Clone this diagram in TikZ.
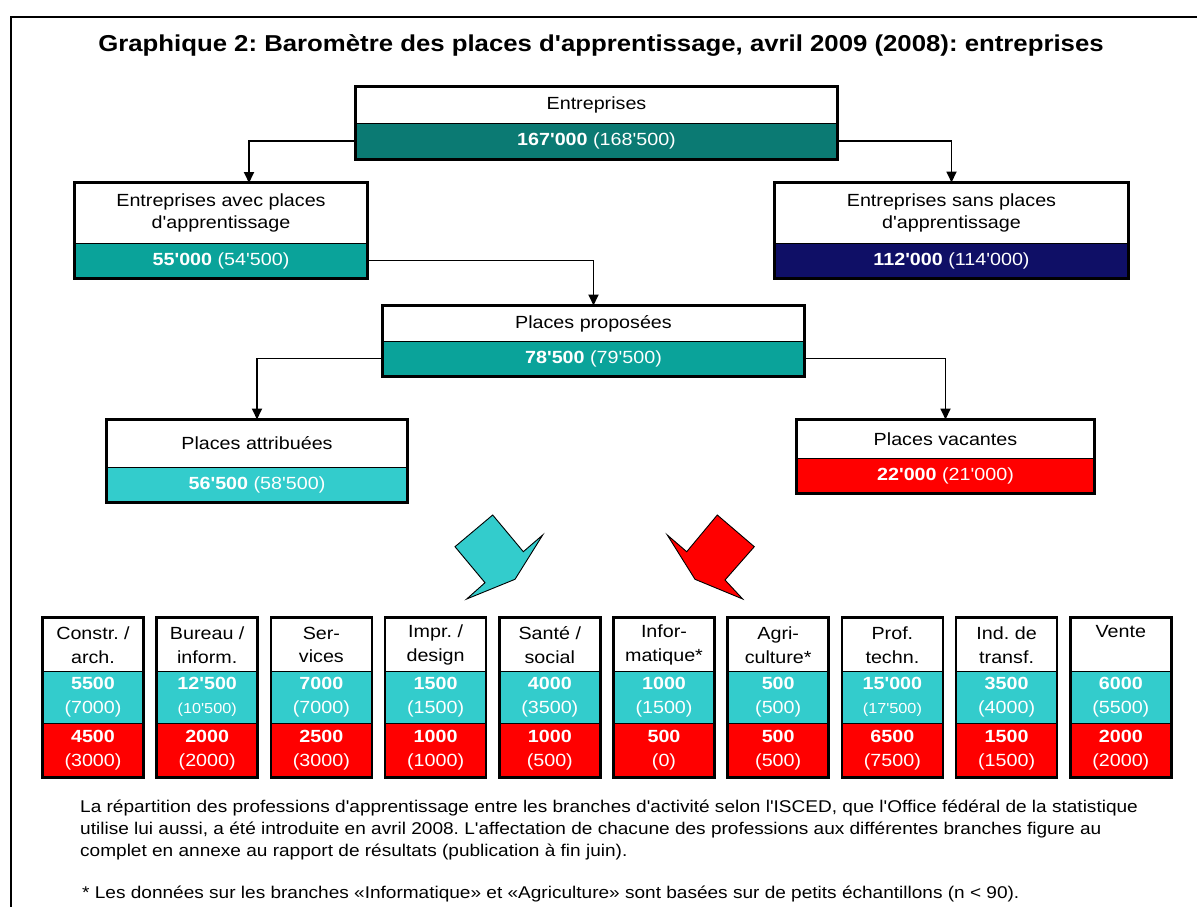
\documentclass[tikz,border=0pt]{standalone}
\usepackage{fontspec}
\setmainfont{Liberation Sans}[Ligatures=TeXOff, FakeStretch=1.12]
\usetikzlibrary{arrows.meta}
\frenchspacing
\definecolor{tealdark}{HTML}{0B7A73}
\definecolor{tealmid}{HTML}{0AA39A}
\definecolor{navy}{HTML}{0F0F66}
\definecolor{cyanbox}{HTML}{33CCCC}
\definecolor{redbox}{HTML}{FF0000}
\tikzset{
  hdr/.style={rectangle, draw=black, line width=1pt, fill=white, inner sep=0pt, align=center,
    font=\fontsize{17.6}{22}\selectfont, text=black},
  val/.style={rectangle, draw=black, line width=1pt, inner sep=0pt, align=center,
    font=\fontsize{17.6}{22}\selectfont, text=white},
  outer/.style={draw=black, line width=2.6pt},
  conn/.style={draw=black, line width=1.8pt, -{Triangle[length=11pt,width=10pt]}},
  fat/.style={draw=black, line width=0.9pt, line join=miter},
  bpart/.style={rectangle, draw=black, line width=1pt, inner sep=0pt, align=center,
    minimum width=100, font=\fontsize{17.6}{23.5}\selectfont},
}
\newcommand\twobox[9]{%
  \node[hdr, minimum width={#4-#2}, minimum height={#5-#3}] (#1h) at ({(#2+#4)/2},{(#3+#5)/2}) {#7};
  \node[val, fill=#9, minimum width={#4-#2}, minimum height={#6-#5}] (#1v) at ({(#2+#4)/2},{(#5+#6)/2}) {#8};
  \draw[outer] (#1h.north west) rectangle (#1v.south east);
}
\newcommand\sm[1]{{\fontsize{14.5}{16}\selectfont #1}}
\begin{document}
\begin{tikzpicture}[x=1pt,y=-1pt]
\useasboundingbox (0,0) rectangle (1197,907);
\draw[line width=2pt] (11,910) -- (11,17) -- (1200,17);
\node[font=\fontsize{23}{26}\selectfont\bfseries] (title) at (601,46) {Graphique 2: Baromètre des places d'apprentissage, avril 2009 (2008): entreprises};

\twobox{ent}{356}{87}{837}{123}{159}{Entreprises}{\textbf{167'000} (168'500)}{tealdark}
\twobox{avec}{75}{183}{367}{243}{278}{Entreprises avec places\\d'apprentissage}{\textbf{55'000} (54'500)}{tealmid}
\twobox{sans}{775}{183}{1128}{243}{278}{Entreprises sans places\\d'apprentissage}{\textbf{112'000} (114'000)}{navy}
\twobox{prop}{383}{306}{804}{341}{376}{Places proposées}{\textbf{78'500} (79'500)}{tealmid}
\twobox{attr}{107}{420}{407}{467}{502}{Places attribuées}{\textbf{56'500} (58'500)}{cyanbox}
\twobox{vac}{797}{420}{1094}{458}{493}{Places vacantes}{\textbf{22'000} (21'000)}{redbox}

\coordinate (avecin) at (249,183);
\draw[conn] (entv.west) -| (avecin);
\draw[conn] (entv.east) -| (sansh.north);
\draw[conn] (avecv.east) -| (proph.north);
\draw[conn] (propv.west) -| (attrh.north);
\draw[conn] (propv.east) -| (vach.north);

% fat arrows
\draw[fat, fill=cyanbox] (492.7,515) -- (455,546.7) -- (485,582.7) -- (466.7,599) -- (515,579.3) -- (542.7,535) -- (523.3,551.7) -- cycle;
\draw[fat, fill=redbox] (717.3,515) -- (754.3,546.7) -- (725,580) -- (742.7,599) -- (695,579.3) -- (667.3,535) -- (686.7,551.7) -- cycle;

% branch boxes
\foreach \h/\a/\ap/\b/\bp [count=\k from 0] in {
  {Constr. /\\arch.}/{5500}/{(7000)}/{4500}/{(3000)},
  {Bureau /\\inform.}/{12'500}/{\sm{(10'500)}}/{2000}/{(2000)},
  {Ser-\\vices}/{7000}/{(7000)}/{2500}/{(3000)},
  {Impr. /\\design}/{1500}/{(1500)}/{1000}/{(1000)},
  {Santé /\\social}/{4000}/{(3500)}/{1000}/{(500)},
  {Infor-\\matique*}/{1000}/{(1500)}/{500}/{(0)},
  {Agri-\\culture*}/{500}/{(500)}/{500}/{(500)},
  {Prof.\\techn.}/{15'000}/{\sm{(17'500)}}/{6500}/{(7500)},
  {Ind. de\\transf.}/{3500}/{(4000)}/{1500}/{(1500)},
  {Vente\\\phantom{g}}/{6000}/{(5500)}/{2000}/{(2000)}}
{
  \pgfmathsetmacro\cx{93+\k*114.2}
  \node[bpart, fill=white, text=black, minimum height=54] (bh\k) at (\cx,645) {\h};
  \node[bpart, fill=cyanbox, text=white, minimum height=52] (bc\k) at (\cx,697) {\textbf{\a}\\\ap};
  \node[bpart, fill=redbox, text=white, minimum height=54] (br\k) at (\cx,750) {\textbf{\b}\\\bp};
  \draw[outer] (bh\k.north west) rectangle (br\k.south east);
}

\node[anchor=north west, align=left, inner sep=0pt, font=\fontsize{17}{22}\selectfont] (note) at (80,800) {La répartition des professions d'apprentissage entre les branches d'activité selon l'ISCED, que l'Office fédéral de la statistique\\utilise lui aussi, a été introduite en avril 2008. L'affectation de chacune des professions aux différentes branches figure au\\complet en annexe au rapport de résultats (publication à fin juin).};
\node[anchor=west, inner sep=0pt, font=\fontsize{17}{22}\selectfont] (star) at (82,894) {* Les données sur les branches «Informatique» et «Agriculture» sont basées sur de petits échantillons (n < 90).};
\end{tikzpicture}
\end{document}
